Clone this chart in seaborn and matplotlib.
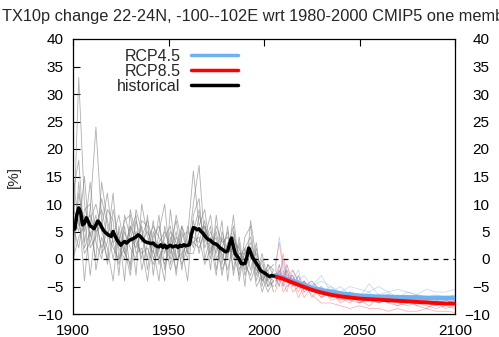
import numpy as np
import pandas as pd
import matplotlib
matplotlib.use("Agg")
import matplotlib.pyplot as plt
from matplotlib.lines import Line2D
import seaborn as sns

# ---------------- data ----------------
hist_mean_years = list(range(1900, 2006))
hist_mean = [5.3, 5.5, 8.0, 9.3, 8.5, 6.2, 6.5, 7.5, 6.8, 6.0,
             5.8, 5.5, 6.2, 6.9, 6.5, 5.8, 5.2, 4.8, 4.5, 4.3,
             4.1, 5.0, 4.2, 3.5, 3.0, 2.5, 2.9, 3.2, 2.9, 3.2,
             3.5, 3.6, 3.8, 4.0, 4.4, 4.2, 3.8, 3.4, 3.1, 3.0,
             2.9, 2.8, 2.9, 2.5, 2.3, 2.2, 2.6, 2.1, 2.5, 2.0,
             2.3, 2.5, 2.2, 2.3, 2.4, 2.1, 2.5, 2.3, 2.6, 2.4,
             2.5, 2.6, 4.5, 5.7, 5.6, 5.3, 5.5, 5.0, 4.7, 4.2,
             3.8, 3.5, 3.4, 3.0, 2.8, 2.7, 2.4, 2.0, 1.8, 1.5,
             1.3, 1.5, 2.8, 3.8, 2.2, 0.9, 0.5, 0.0, -0.8, -0.9,
             -0.8, 0.3, 2.0, 1.2, 0.2, -0.2, -0.8, -1.3, -2.0, -2.3,
             -2.5, -2.7, -3.0, -3.2, -3.0, -3.1]

hist_member_years = list(range(1900, 2006, 3))
hist_members = [
    [2, 33, 10, 4, 8, 1, 3, 12, 0, 6, -2, 9, 5, 0, 7, -1, 4, 6, -3, 5, 1, 10, 17, 3, 6, -2, 4, 0, 8, -2, 1, 3, -4, 0, -5, -4],
    [12, 18, 3, 9, 24, 7, -1, 4, 8, 2, 6, -3, 10, 4, 1, 8, -2, 3, 7, 0, 4, 16, 6, 9, 1, 5, -1, 6, -3, 3, -5, 7, 0, -4, -2, -6],
    [8, 5, 15, 2, 4, 11, 6, 0, 5, -4, 9, 4, 0, 8, -3, 5, 10, -1, 4, 2, -4, 8, 11, 0, 4, 1, 7, -4, 5, 0, 2, -2, 3, -5, -1, -3],
    [-2, 12, 5, 14, 3, 0, 9, 7, -3, 8, 4, 2, 6, -2, 5, 1, -4, 9, 0, 6, 3, 4, 3, 7, -2, 8, 0, 3, 1, -3, 4, 6, -3, 1, -4, -2],
    [4, 9, -4, 7, 10, 5, 2, -4, 6, 1, -1, 7, 3, 5, 2, -4, 6, 1, 5, -2, 6, 2, 8, 4, 8, 0, 2, 5, -2, 4, -3, 0, 1, -2, -5, -3],
    [15, 6, 8, -3, 6, 9, 4, 5, 2, 0, 5, 8, -2, 3, 6, 4, 2, 0, 8, 3, 0, 7, 1, 6, 3, -3, 5, 1, 4, 1, 0, -4, -1, -6, -3, -4],
    [1, 14, 2, 5, 0, 14, 7, 3, -1, 5, 2, 0, 7, 6, 0, 3, 5, 2, -2, 4, 5, 3, 4, -1, 2, 4, -3, 2, 6, -4, 2, 4, -2, -3, -2, -1],
    [6, 2, 9, 10, -2, 4, 0, 9, 3, 7, 8, 1, 2, -4, 4, 6, 1, 5, 3, -1, 2, 5, 9, 2, 5, 2, 1, -2, 3, 2, -2, 1, 0, -1, -4, -5],
    [9, 7, 1, 3, 7, 2, 5, 2, 0, 2, -3, 5, 4, 7, 3, 0, 3, -2, 2, 6, 1, 1, 5, 6, 0, 6, 3, 4, 0, 1, 1, 2, -5, -3, -6, -4],
    [0, 4, 6, 8, 5, 6, 12, 3, 4, 1, 6, 3, 1, 2, -1, 2, -1, 4, 0, 1, 3, 3, 2, 5, 3, 3, -2, 1, 2, 0, -1, -3, 2, -4, -1, -2],
]

fut_years = [2006, 2008, 2010, 2012, 2015, 2018, 2021, 2025, 2030, 2035, 2040, 2045,
             2050, 2055, 2060, 2065, 2070, 2075, 2080, 2085, 2090, 2095, 2100]
rcp85_mean = [-3.2, -3.4, -3.6, -3.9, -4.3, -4.7, -5.1, -5.6, -6.1, -6.5, -6.8, -7.0,
              -7.2, -7.3, -7.4, -7.5, -7.6, -7.7, -7.8, -7.9, -8.0, -8.1, -8.1]
rcp45_mean = [-3.0, -3.2, -3.4, -3.7, -4.0, -4.4, -4.8, -5.3, -5.7, -6.0, -6.3, -6.5,
              -6.7, -6.8, -6.9, -6.9, -7.0, -7.0, -7.0, -7.1, -7.1, -7.1, -7.1]
rcp85_members = [
    [-1, 3, -2, -4, -3, -5, -4, -6, -6, -7, -6, -7.5, -8, -7, -8, -7.5, -8, -8.5, -8, -8.5, -9, -8.5, -9],
    [-4, -2, -5, -1, -5, -3, -6, -5, -7, -6, -8, -7, -7.5, -8.5, -7, -8, -8.5, -7.5, -8.5, -9, -8, -9, -8.5],
    [-3, -5, 1, -3, -4, -6, -4, -7, -5, -7.5, -7, -8, -6.5, -7, -8, -7, -7.5, -8, -7, -8, -8.5, -7.5, -8],
    [-5, -1, -4, -6, -2, -4, -7, -5, -7, -6, -7.5, -6, -8, -7, -6.5, -8, -7, -7, -8.5, -7, -7.5, -8, -7.5],
    [-2, -4, -3, -2, -6, -5, -5, -4, -6, -5.5, -6, -7.5, -7, -6.5, -7.5, -6.5, -7, -7.5, -7, -7.5, -7, -7, -7],
    [-6, -3, -6, -5, -4, -7, -5, -6.5, -8, -8, -8.5, -9, -8.5, -9, -9, -9.5, -9, -9.5, -9.5, -9, -9.5, -9.5, -9.7],
]
rcp45_members = [
    [-2, 4, -1, -3, -2, -4, -3, -5, -4, -5, -6, -5, -5.5, -6, -5, -6, -5.5, -6, -6.5, -5.5, -6, -6, -5.5],
    [-3, -1, -4, -2, -5, -3, -5, -4, -6, -5, -7, -6, -7, -6, -7.5, -7, -6.5, -7, -7.5, -7, -7, -7.5, -7],
    [-4, -3, 0, -4, -3, -5, -4, -6, -5, -6.5, -6, -7, -6.5, -7.5, -7, -8, -7.5, -7, -8, -7.5, -8, -7.5, -8],
    [-1, -4, -3, -1, -4, -2, -6, -5, -3, -6, -5, -6.5, -7, -4.5, -6.5, -6, -7, -6, -6.5, -7, -6.5, -7, -6.5],
    [-5, -2, -5, -3, -3, -5, -4, -5.5, -6.5, -6, -7.5, -7, -8, -7.5, -8, -7.5, -8.5, -8, -7.5, -8, -8.5, -8, -8],
    [-3, -5, -2, -5, -4, -4, -5, -4.5, -5.5, -7, -6.5, -6, -6.5, -7, -7, -6.5, -7, -7.5, -7, -7, -7, -7, -7.5],
]

legend_labels = ["RCP4.5", "RCP8.5", "historical"]
title_text = "TX10p change 22-24N, -100--102E wrt 1980-2000 CMIP5 one member"
x_ticks = [1900, 1950, 2000, 2050, 2100]
y_ticks = [-10, -5, 0, 5, 10, 15, 20, 25, 30, 35, 40]

# ---------------- style ----------------
sns.set_theme(style="white")
plt.rcParams["font.family"] = ["Liberation Sans", "DejaVu Sans"]

blue = "#6fb0f0"
red = "#ff0000"


def members_df(years, members):
    rows = []
    for i, m in enumerate(members):
        for y, v in zip(years, m):
            rows.append({"year": y, "value": v, "member": i})
    return pd.DataFrame(rows)


fig = plt.figure(figsize=(4.99, 3.37), dpi=100)
ax = fig.add_axes([73 / 499, 1 - 314 / 337, (455 - 73) / 499, (314 - 39) / 337])

df_h = members_df(hist_member_years, hist_members)
sns.lineplot(data=df_h, x="year", y="value", units="member", estimator=None,
             color="#7a7a7a", lw=0.6, alpha=0.6, ax=ax, legend=False)
df_b = members_df(fut_years, rcp45_members)
sns.lineplot(data=df_b, x="year", y="value", units="member", estimator=None,
             color=blue, lw=0.5, alpha=0.5, ax=ax, legend=False)
df_r = members_df(fut_years, rcp85_members)
sns.lineplot(data=df_r, x="year", y="value", units="member", estimator=None,
             color=red, lw=0.5, alpha=0.35, ax=ax, legend=False)

ax.axhline(0, color="black", lw=0.9, ls=(0, (4, 4)), zorder=3)

sns.lineplot(x=fut_years, y=rcp45_mean, color=blue, lw=3.5, ax=ax, zorder=4)
sns.lineplot(x=fut_years, y=rcp85_mean, color=red, lw=2.8, ax=ax, zorder=5)
sns.lineplot(x=hist_mean_years, y=hist_mean, color="black", lw=2.5, ax=ax, zorder=5)

ax.set_xlim(1900, 2100)
ax.set_ylim(-10, 40)
ax.set_xticks(x_ticks)
ax.set_yticks(y_ticks)
ax.set_xlabel("")
ax.set_ylabel("[%]", fontsize=11, labelpad=12)
ax.tick_params(axis="both", direction="in", length=5, width=0.8, top=True,
               right=True, labelsize=11, colors="black")
ax.tick_params(axis="y", pad=7)
ax.tick_params(axis="x", pad=7)
for s in ax.spines.values():
    s.set_color("black")
    s.set_linewidth(0.9)

# right-hand labels, right-aligned near the figure edge
ax2 = ax.twinx()
ax2.set_ylim(-10, 40)
ax2.set_yticks(y_ticks)
ax2.tick_params(axis="y", direction="in", length=0, labelsize=11, pad=25,
                colors="black")
for lab in ax2.get_yticklabels():
    lab.set_horizontalalignment("right")
for s in ax2.spines.values():
    s.set_visible(False)

handles = [Line2D([], [], color=blue, lw=2.5),
           Line2D([], [], color=red, lw=2.5),
           Line2D([], [], color="black", lw=2.5)]
ax.legend(handles, legend_labels, loc="upper left", bbox_to_anchor=(0.115, 0.965),
          markerfirst=False, frameon=False, fontsize=11.5, handlelength=2.9,
          labelspacing=0.0, borderpad=0, borderaxespad=0, handletextpad=0.7)

fig.text(0.005, 1 - 17 / 337, title_text, fontsize=11.75, ha="left", va="center")

fig.savefig("out.png", dpi=100)
